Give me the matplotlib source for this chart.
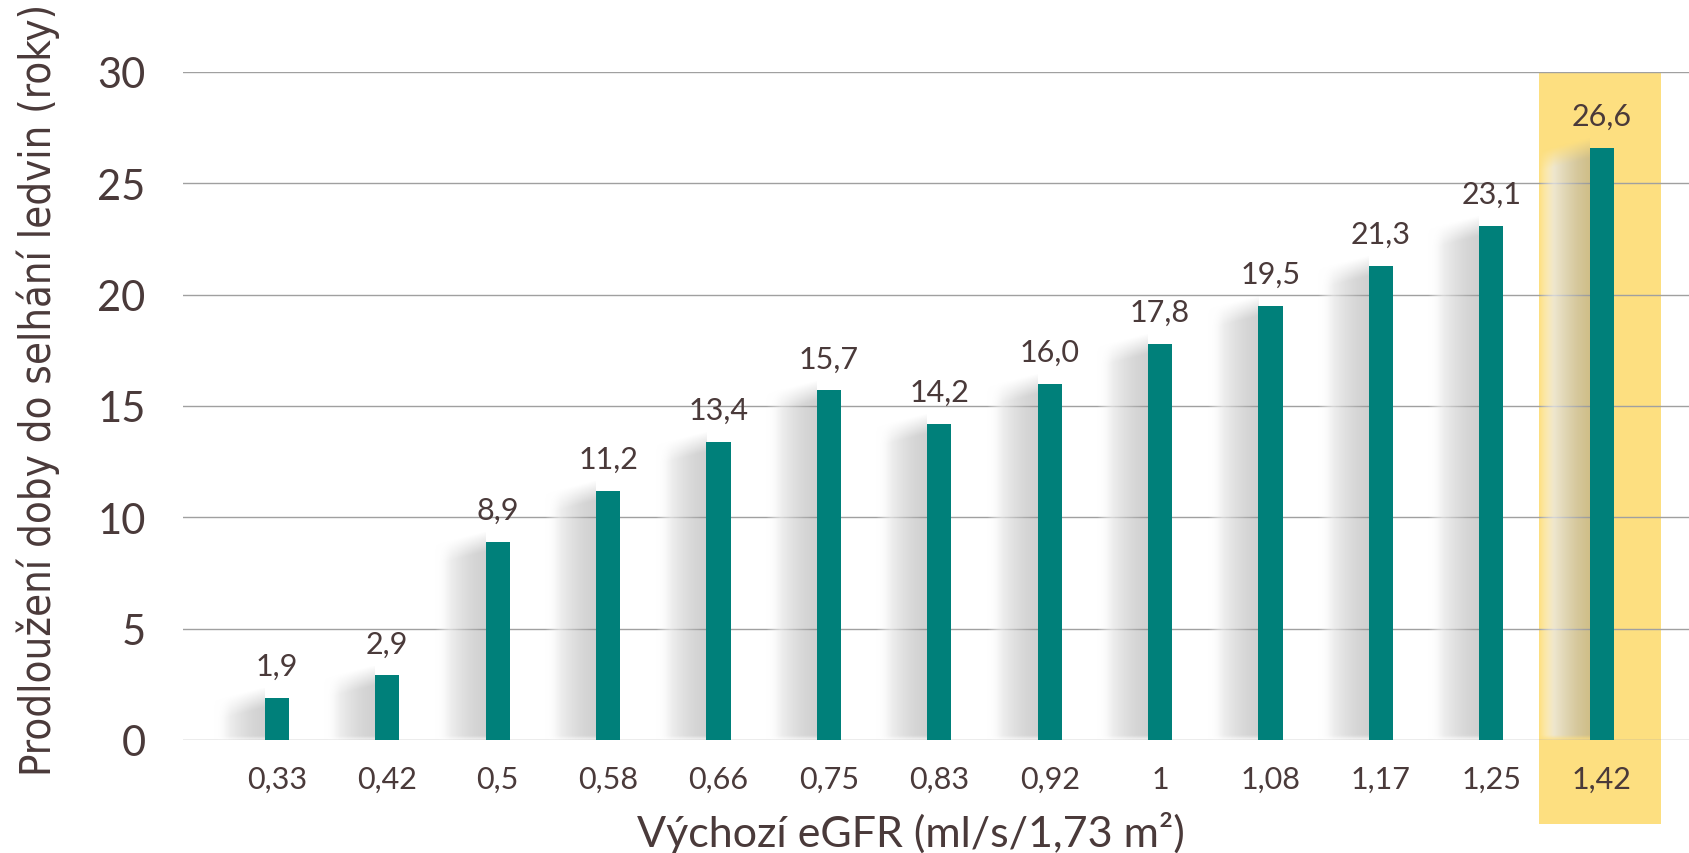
import numpy as np
import matplotlib
matplotlib.use("Agg")
import matplotlib.pyplot as plt
from matplotlib.patches import Rectangle

# eGFR categories and the gained time to kidney failure (years)
egfr_labels = ["0,33", "0,42", "0,5", "0,58", "0,66", "0,75", "0,83",
               "0,92", "1", "1,08", "1,17", "1,25", "1,42"]
years = [1.9, 2.9, 8.9, 11.2, 13.4, 15.7, 14.2, 16.0, 17.8, 19.5, 21.3, 23.1, 26.6]
value_labels = ["1,9", "2,9", "8,9", "11,2", "13,4", "15,7", "14,2",
                "16,0", "17,8", "19,5", "21,3", "23,1", "26,6"]
y_ticks = [0, 5, 10, 15, 20, 25, 30]
highlight_index = 12

TEXT = "#4a3a3a"
BAR = "#00807a"
GRID = "#a0a0a0"
BAND = "#fddf80"

fig = plt.figure(figsize=(16.9, 8.54), dpi=100)
ax = fig.add_axes([183 / 1690, 113 / 854, 1 - 183 / 1690, (741 - 73) / 854])
ax.set_xlim(-0.85, 12.8)
ax.set_ylim(0, 30)

x = np.arange(len(years))
bar_w = 0.22

# highlighted column band, running down behind the tick label
ax.add_patch(Rectangle((highlight_index - 0.57, -3.77), 1.11, 33.77,
                       facecolor=BAND, edgecolor="none", zorder=0,
                       clip_on=False))

# horizontal grid
for t in y_ticks:
    ax.axhline(t, color=GRID, lw=1.0, zorder=1)

# soft shadow to the left of each bar
sw = 0.46
drop = 0.6
for xi, h in zip(x, years):
    x1 = xi - bar_w / 2
    x0 = x1 - sw
    top = h + 0.4
    nx, ny = 120, 300
    xs = np.linspace(x0, x1, nx)
    ys = np.linspace(top, 0, ny)
    X, Y = np.meshgrid(xs, ys)
    t = (X - x0) / sw
    ytop = h - drop * (1 - t)
    fade_top = np.clip((ytop - Y) / 0.9 + 0.5, 0, 1)
    fade_bot = np.clip(Y / 0.25 + 0.3, 0, 1)
    ramp = np.clip(t / 0.3, 0, 1)
    alpha = ramp * (0.88 - 0.45 * t) * fade_top * fade_bot
    g = 1 - 0.42 * t ** 1.3
    img = np.zeros((ny, nx, 4))
    img[..., 0] = g
    img[..., 1] = g
    img[..., 2] = g
    img[..., 3] = alpha
    ax.imshow(img, extent=[x0, x1, 0, top], aspect="auto",
              interpolation="bilinear", zorder=2)

ax.bar(x, years, width=bar_w, color=BAR, zorder=3)

for xi, h, lab in zip(x, years, value_labels):
    ax.annotate(lab, (xi, h), xytext=(0, 23), textcoords="offset points",
                ha="center", va="center", fontsize=22, color=TEXT,
                family="Lato")

ax.set_xticks(x)
ax.set_xticklabels(egfr_labels, fontsize=22, color=TEXT, family="Lato")
ax.set_yticks(y_ticks)
ax.set_yticklabels([str(v) for v in y_ticks], fontsize=30, color=TEXT,
                   family="Lato")
ax.tick_params(axis="x", length=0, pad=18)
ax.tick_params(axis="y", length=0, pad=27)
for s in ax.spines.values():
    s.set_visible(False)
ax.set_facecolor("none")

fig.text(911 / 1690, 1 - 833 / 854, "Výchozí eGFR (ml/s/1,73 m²)",
         ha="center", va="center", fontsize=31, color=TEXT, family="Lato")
fig.text(38 / 1690, 1 - 390 / 854, "Prodloužení doby do selhání ledvin (roky)",
         ha="center", va="center", rotation=90, fontsize=30, color=TEXT,
         family="DejaVu Sans", fontstretch="condensed")

fig.savefig("out.png", dpi=100, facecolor="white")
